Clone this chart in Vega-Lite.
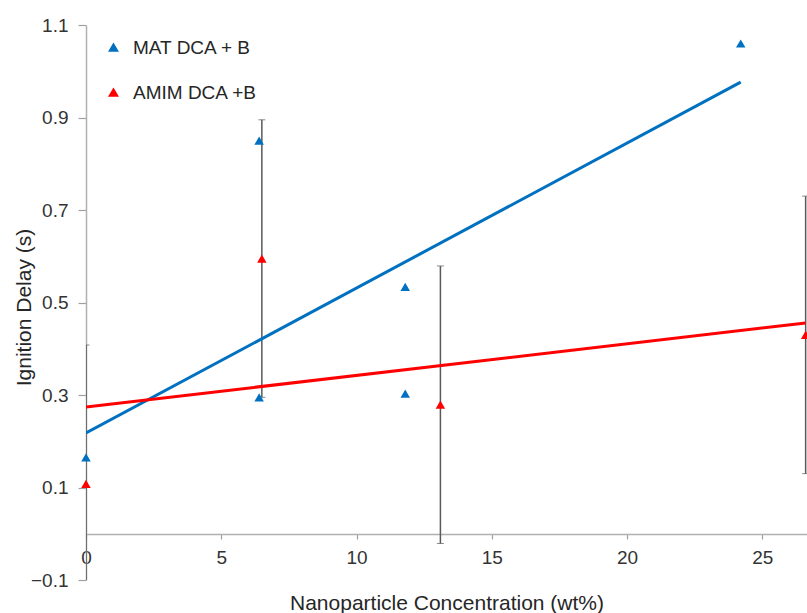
{
  "$schema": "https://vega.github.io/schema/vega-lite/v6.json",
  "width": 721,
  "height": 555,
  "autosize": {"type": "none"},
  "padding": {"left": 86, "top": 25, "right": 0, "bottom": 33},
  "config": {
    "view": {"stroke": null},
    "font": "Liberation Sans",
    "axis": {
      "labelFont": "Liberation Sans",
      "titleFont": "Liberation Sans",
      "labelColor": "#333333",
      "titleColor": "#262626",
      "titleFontWeight": "normal",
      "grid": false,
      "domainColor": "#b0b0b0",
      "domainWidth": 1.5,
      "tickColor": "#a0a0a0",
      "tickWidth": 1.2
    },
    "legend": {"labelFont": "Liberation Sans"}
  },
  "data": {
    "values": [
      {"series": "MAT DCA + B", "conc": 0, "delay": 0.165},
      {"series": "MAT DCA + B", "conc": 6.4, "delay": 0.85},
      {"series": "MAT DCA + B", "conc": 6.4, "delay": 0.295},
      {"series": "MAT DCA + B", "conc": 11.8, "delay": 0.534},
      {"series": "MAT DCA + B", "conc": 11.8, "delay": 0.303},
      {"series": "MAT DCA + B", "conc": 24.2, "delay": 1.06},
      {"series": "AMIM DCA +B", "conc": 0, "delay": 0.108, "err": 0.3},
      {"series": "AMIM DCA +B", "conc": 6.5, "delay": 0.595, "err": 0.3},
      {"series": "AMIM DCA +B", "conc": 13.1, "delay": 0.279, "err": 0.3},
      {"series": "AMIM DCA +B", "conc": 26.6, "delay": 0.43, "err": 0.3}
    ]
  },
  "layer": [
    {
      "transform": [{"filter": {"field": "series", "equal": "AMIM DCA +B"}}],
      "mark": {
        "type": "errorbar",
        "color": "#595959",
        "clip": true,
        "ticks": {"size": 7, "color": "#595959"},
        "rule": {"color": "#595959", "strokeWidth": 1.5}
      },
      "encoding": {
        "x": {
          "field": "conc",
          "type": "quantitative",
          "scale": {"domain": [0, 26.65], "nice": false, "zero": false},
          "axis": {
            "values": [0, 5, 10, 15, 20, 25],
            "title": "Nanoparticle Concentration (wt%)",
            "offset": -46,
            "labelFontSize": 19,
            "titleFontSize": 21,
            "tickSize": 5,
            "labelPadding": 9,
            "labelFlush": false,
            "titleY": 69,
            "titleBaseline": "middle"
          }
        },
        "y": {
          "field": "delay",
          "type": "quantitative",
          "scale": {"domain": [-0.1, 1.1], "nice": false, "zero": false},
          "axis": {
            "values": [-0.1, 0.1, 0.3, 0.5, 0.7, 0.9, 1.1],
            "title": "Ignition Delay (s)",
            "labelFontSize": 19,
            "titleFontSize": 21,
            "tickSize": 8,
            "labelPadding": 10,
            "labelFlush": false,
            "titleX": -62,
            "titleY": 282,
            "titleBaseline": "middle"
          }
        },
        "yError": {"field": "err"}
      }
    },
    {
      "transform": [{"regression": "delay", "on": "conc", "groupby": ["series"]}],
      "mark": {"type": "line", "strokeWidth": 3, "clip": true},
      "encoding": {
        "x": {"field": "conc", "type": "quantitative"},
        "y": {"field": "delay", "type": "quantitative"},
        "color": {"field": "series", "type": "nominal"}
      }
    },
    {
      "mark": {"type": "point", "shape": "triangle-up", "filled": true, "opacity": 1, "size": 90},
      "encoding": {
        "x": {"field": "conc", "type": "quantitative"},
        "y": {"field": "delay", "type": "quantitative"},
        "color": {
          "field": "series",
          "type": "nominal",
          "scale": {"domain": ["MAT DCA + B", "AMIM DCA +B"], "range": ["#0070C0", "#FF0000"]},
          "legend": {
            "orient": "none",
            "legendX": 18,
            "legendY": 13,
            "title": null,
            "symbolType": "triangle-up",
            "symbolSize": 70,
            "labelFontSize": 19,
            "labelColor": "#262626",
            "rowPadding": 25,
            "labelOffset": 10,
            "padding": 0
          }
        }
      }
    }
  ]
}
